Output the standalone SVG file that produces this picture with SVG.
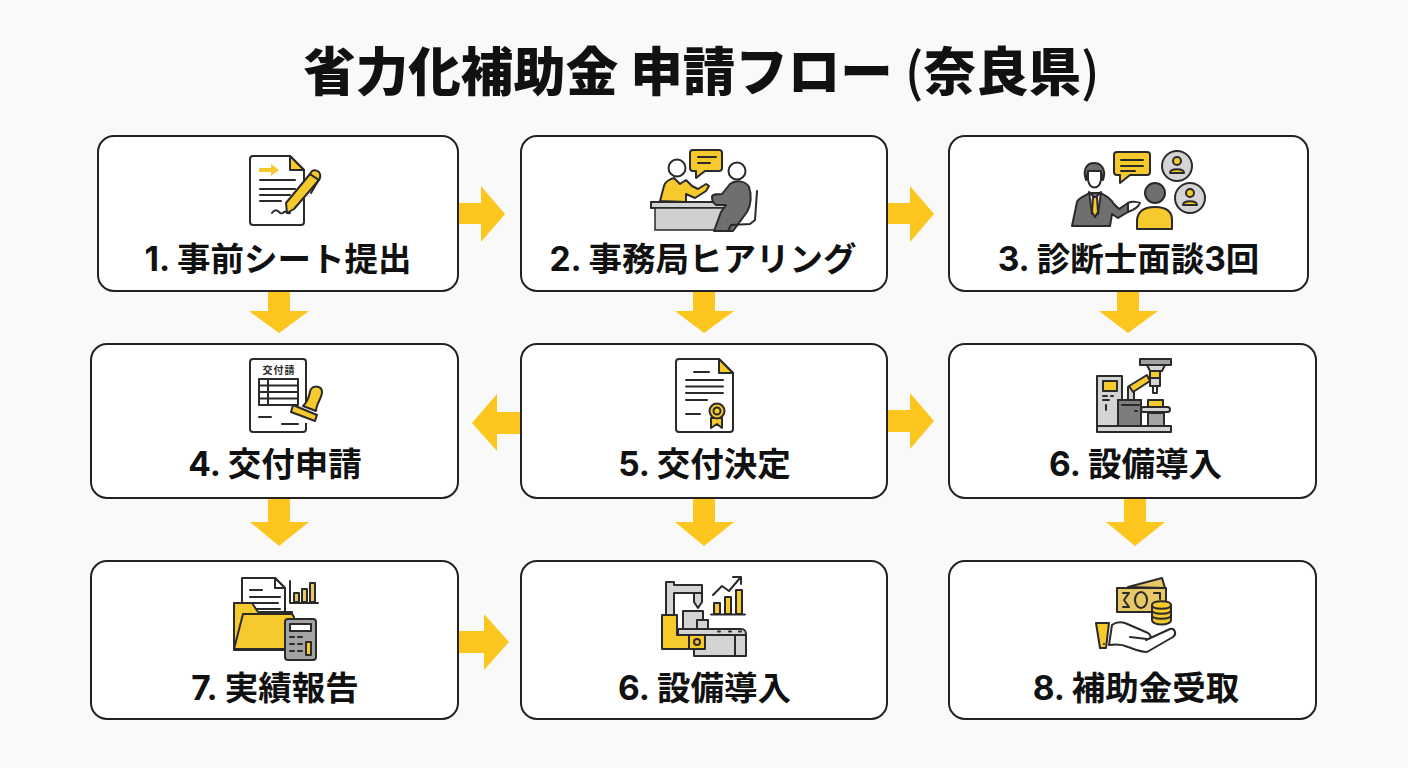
<svg xmlns="http://www.w3.org/2000/svg" width="1408" height="768" viewBox="0 0 1408 768">
<style>
.t{font-family:"Inter","Noto Sans CJK JP",sans-serif;font-weight:700;fill:#111;text-anchor:middle}
.l{font-size:33.500px}
.b{fill:#fff;stroke:#222;stroke-width:2}
.a{fill:#fdc61e}
.k{fill:none;stroke:#2a2a2a;stroke-width:2;stroke-linecap:round;stroke-linejoin:round}
.w{fill:#fff;stroke:#2a2a2a;stroke-width:2;stroke-linejoin:round}
.y{fill:#f6c92c;stroke:#2a2a2a;stroke-width:2;stroke-linejoin:round}
.g{fill:#6f6f6f;stroke:#2a2a2a;stroke-width:2;stroke-linejoin:round}
.m{fill:#a3a3a3;stroke:#2a2a2a;stroke-width:2;stroke-linejoin:round}
.s{fill:#d4d4d4;stroke:#2a2a2a;stroke-width:2;stroke-linejoin:round}
.f{fill:#e8c766;stroke:#2a2a2a;stroke-width:2;stroke-linejoin:round}
</style>
<rect width="1408" height="768" fill="#f9f9f9"/>
<text id="title" class="t" x="701.500" y="91" font-size="52.500" style="font-family:'Noto Sans CJK JP',sans-serif;font-weight:900">省力化補助金 申請フロー <tspan style="font-weight:500">(</tspan>奈良県<tspan style="font-weight:500">)</tspan></text>

<g id="connectors">
<polygon class="a" points="458,203 481,203 481,186 505,214 481,242 481,224 458,224"/>
<polygon class="a" points="887,203 910,203 910,186 934,214 910,242 910,224 887,224"/>
<polygon class="a" points="268,291 290,291 290,311 309,311 279,333 249,311 268,311"/>
<polygon class="a" points="693,291 715,291 715,311 734,311 704,333 675,311 693,311"/>
<polygon class="a" points="1117,291 1139,291 1139,311 1158,311 1128,333 1099,311 1117,311"/>
<polygon class="a" points="521,412 497,412 497,394 472,423 497,451 497,434 521,434"/>
<polygon class="a" points="887,410 910,410 910,393 934,421 910,449 910,432 887,432"/>
<polygon class="a" points="268,498 290,498 290,522 309,522 279,546 250,522 268,522"/>
<polygon class="a" points="693,498 715,498 715,522 734,522 704,546 675,522 693,522"/>
<polygon class="a" points="1124,498 1146,498 1146,522 1165,522 1135,546 1106,522 1124,522"/>
<polygon class="a" points="458,631 484,631 484,614 509,642 484,670 484,653 458,653"/>
</g>

<g id="node1">
<rect class="b" x="98" y="136" width="360" height="155" rx="16"/>
<path class="w" d="M253 156H290L304 170V222a3 3 0 0 1-3 3H253a3 3 0 0 1-3-3V159a3 3 0 0 1 3-3z"/>
<path class="y" d="M290 156L304 170H290z"/>
<path d="M259 168H271V164L279 170L271 176V172H259z" fill="#f6c92c"/>
<path class="k" d="M260 180H295M260 189H295M260 195H290M260 201H281M272 213c3-4 5-3 7-1s3 2 5 0 2 2 6 1"/>
<path class="y" d="M287 213L286 203 310 174 319 180 294 209z"/>
<path class="y" d="M310 174L312 171C315 169 319 171 320 174S320 178 319 180z"/>
<path class="k" d="M318 181L311 193"/>
<text class="t l" x="278" y="271">1. 事前シート提出</text>
</g>

<g id="node2">
<rect class="b" x="521" y="136" width="366" height="155" rx="16"/>
<path class="y" d="M693 150H719a3 3 0 0 1 3 3V168a3 3 0 0 1-3 3H705L696 178V171H693a3 3 0 0 1-3-3V153a3 3 0 0 1 3-3z"/>
<path class="k" d="M698 157H716M698 163H710" stroke-width="1.500"/>
<circle class="w" cx="677" cy="168" r="8.500"/>
<path class="y" d="M660 201L664 186C665 182 670 179 674 178L680 184 686 180 692 186 698 189 706 184 709 186 706 191 695 198 686 194 686 202z"/>
<rect class="s" x="651" y="202" width="77" height="6"/>
<path d="M655 208H723V230H655z" fill="#cfcfcf" stroke="#2a2a2a" stroke-width="1.500"/>
<circle class="w" cx="737" cy="171" r="8.500"/>
<path class="g" d="M712 197C712 194 716 194 722 194L730 184C735 180 745 180 749 187C752 195 751 205 747 212L733 231H714L721 212 726 205H716C713 203 712 200 712 197z"/>
<path class="k" d="M757 191L755 220 750 224 731 225 728 231"/>
<text class="t l" x="703" y="271">2. 事務局ヒアリング</text>
</g>

<g id="node3">
<rect class="b" x="949" y="136" width="359" height="155" rx="16"/>
<path class="y" d="M1117 152H1147a3 3 0 0 1 3 3V172a3 3 0 0 1-3 3H1130L1120 183V175H1117a3 3 0 0 1-3-3V155a3 3 0 0 1 3-3z"/>
<path class="k" d="M1121 160H1143M1121 166H1143M1121 171H1135" stroke-width="1.500"/>
<circle class="s" cx="1177" cy="166" r="15"/>
<circle class="y" cx="1177" cy="161" r="4"/><path class="y" d="M1170 173C1170 168 1184 168 1184 173z"/>
<circle class="s" cx="1190" cy="198" r="15"/>
<circle class="y" cx="1190" cy="193" r="4"/><path class="y" d="M1183 205C1183 200 1197 200 1197 205z"/>
<circle class="g" cx="1155" cy="193" r="10"/>
<path class="y" d="M1137 229V220C1138 210 1146 207 1155 207S1172 210 1172 220V229z"/>
<path class="g" d="M1072 226L1077 202C1078 198 1085 196 1089 193H1101C1106 196 1111 198 1113 203L1119 209 1128 203 1128 212 1118 218 1112 214 1110 226z"/>
<path class="w" d="M1128 203C1132 201 1138 202 1140 203 1138 208 1133 210 1128 212z"/>
<path class="g" d="M1086 180C1082 168 1088 163 1094 163S1107 168 1103 180L1101 172H1088z"/>
<path class="w" d="M1088 171H1101L1101 180C1099 190 1090 190 1088 180z"/>
<path class="w" d="M1089 192L1095 198 1101 192 1098 214H1092z"/>
<path class="y" d="M1093 197H1097L1098 212 1095 217 1092 212z"/>
<text class="t l" x="1128.500" y="271">3. 診断士面談3回</text>
</g>

<g id="node4">
<rect class="b" x="91" y="344" width="367" height="154" rx="16"/>
<path class="w" d="M253 359H303a3 3 0 0 1 3 3V429a3 3 0 0 1-3 3H253a3 3 0 0 1-3-3V362a3 3 0 0 1 3-3z"/>
<text x="279" y="374" font-size="10" font-weight="700" text-anchor="middle" fill="#2a2a2a" font-family="Noto Sans CJK JP,sans-serif" letter-spacing="1">交付請</text>
<path class="k" d="M259 379H298V405H259zM259 385.500H298M259 392H298M259 398.500H298M268 379V405M259 417H271M282 424H298" stroke-width="1.500"/>
<path fill="#fff" d="M307 403h-3v20h3z"/>
<path class="y" d="M303 406C310 400 309 392 311 389C314 385 322 386 322 392C322 398 316 404 316 411z"/>
<path class="y" d="M293 405L317 415 315 421 291 412z"/>
<text class="t l" x="275" y="476">4. 交付申請</text>
</g>

<g id="node5">
<rect class="b" x="521" y="344" width="366" height="154" rx="16"/>
<path class="w" d="M679 359H719L733 373V429a3 3 0 0 1-3 3H679a3 3 0 0 1-3-3V362a3 3 0 0 1 3-3z"/>
<path class="y" d="M719 359L733 373H719z"/>
<path class="k" d="M694 372H709M686 380H723M686 393H723M686 400H707M686 414H700M686 386.500H723" stroke-width="1.500"/>
<path class="y" d="M711 418V428L717 424 722 428V418z"/>
<circle class="y" cx="717" cy="411" r="7.500"/><circle class="k" cx="717" cy="411" r="3.500" stroke-width="1.500"/>
<text class="t l" x="704.500" y="476">5. 交付決定</text>
</g>

<g id="node6">
<rect class="b" x="949" y="344" width="367" height="154" rx="16"/>
<rect class="s" x="1097" y="376" width="25" height="50"/>
<rect class="y" x="1103" y="381" width="14" height="10"/>
<path class="k" d="M1103 396H1107M1111 396H1113M1103 400H1109M1106 405V410" stroke-width="1.500"/>
<path class="s" d="M1128 400V387L1134 385V400z"/>
<path class="y" d="M1129 386L1147 375 1150 381 1133 392z"/>
<rect class="y" x="1150" y="371" width="10" height="7"/>
<rect class="s" x="1150" y="378" width="10" height="8"/>
<rect class="w" x="1153" y="386" width="4" height="7"/>
<path class="s" d="M1147 365H1165L1162 371H1150z"/>
<rect class="m" x="1140" y="359" width="31" height="6"/>
<rect x="1118" y="400" width="23" height="26" fill="#7d7d7d" stroke="#2a2a2a" stroke-width="2"/>
<path class="k" d="M1122 405H1139M1135 411H1137" stroke-width="1.500"/>
<rect class="m" x="1148" y="413" width="16" height="13"/>
<rect class="s" x="1141" y="407" width="29" height="5" rx="2.500"/>
<rect class="y" x="1148" y="400" width="15" height="7"/>
<rect class="s" x="1097" y="426" width="74" height="6"/>
<text class="t l" x="1135.500" y="476">6. 設備導入</text>
</g>

<g id="node7">
<rect class="b" x="91" y="561" width="367" height="158" rx="16"/>
<path class="w" d="M242 578H275L285 588V625H242z"/>
<path class="w" d="M275 578L285 588H275z"/>
<path class="k" d="M250 590H262M250 597H280M250 603H278M254 609H280" stroke-width="1.500"/>
<path class="y" d="M234 603H252L258 612H292L294 650H234z"/>
<path class="y" d="M234 649L243 614H292L294 617 288 649z"/>
<path class="k" d="M290 581V603H318" stroke-width="1.500"/>
<path class="f" d="M294 593h5v9h-5zM302 589h5v13h-5zM310 583h5v19h-5z" stroke-width="1.500"/>
<rect class="m" x="285" y="619" width="31" height="41" rx="3"/>
<rect class="w" x="290" y="624" width="21" height="7"/>
<path class="k" d="M290 637H294M298 637H302M290 644H294M298 644H302M290 651H294M298 651H302" stroke-width="2.500"/>
<rect class="y" x="306" y="642" width="5" height="13" stroke-width="1.500"/>
<text class="t l" x="275" y="700">7. 実績報告</text>
</g>

<g id="node8">
<rect class="b" x="521" y="561" width="366" height="158" rx="16"/>
<path class="s" d="M666 582H674V585H702V593H674V615H666z"/>
<path class="s" d="M694 593H702V602L698 608 694 602z"/>
<rect class="s" x="683" y="611" width="20" height="18"/>
<rect class="s" x="697" y="620" width="11" height="9"/>
<path class="s" d="M678 629H741C745 629 746 631 746 635V656H694V635H678z"/>
<path class="k" d="M735 636V656M694 635H746" stroke-width="1.500"/>
<path class="k" d="M718 631.500H720M729 631.500H731M739 631.500H741" stroke-width="2"/>
<path class="y" d="M662 615H677V635H689V649H662z"/>
<rect class="y" x="689" y="635" width="16" height="14"/>
<circle class="k" cx="697" cy="642" r="3"/>
<path class="y" d="M714 603h6v11h-6zM725 597h6v17h-6zM736 590h6v24h-6z"/>
<path class="k" d="M711 614.500H745M713 595L722 586 729 591 740 578M733 577L741 577 741 584"/>
<text class="t l" x="704.500" y="700">6. 設備導入</text>
</g>

<g id="node9">
<rect class="b" x="949" y="561" width="367" height="158" rx="16"/>
<path class="f" d="M1128 587L1162 578 1165 588z"/>
<rect class="f" x="1117" y="588" width="49" height="24"/>
<ellipse class="k" cx="1141" cy="600" rx="6" ry="8"/>
<path class="k" d="M1123 593H1129L1124 600 1129 607H1123M1154 593H1160V599" stroke-width="1.500"/>
<path class="y" d="M1152 605C1152 600 1171 600 1171 605V620C1171 626 1152 626 1152 620z"/>
<path class="k" d="M1152 605C1152 610 1171 610 1171 605M1152 610C1152 615 1171 615 1171 610M1152 615C1152 620 1171 620 1171 615" stroke-width="1.500"/>
<path class="w" d="M1112 625C1116 622 1121 622 1125 623L1148 633C1152 636 1151 639 1148 639L1146 640 1170 629C1175 628 1177 634 1173 637L1147 652C1140 652 1134 649 1128 647 1122 644 1116 644 1109 645z"/>
<path class="k" d="M1130 637L1147 639"/>
<path class="y" d="M1096 623H1109L1106 648H1100z"/>
<circle cx="1104" cy="644" r="1" fill="#222"/>
<text class="t l" x="1136" y="700">8. 補助金受取</text>
</g>
</svg>
